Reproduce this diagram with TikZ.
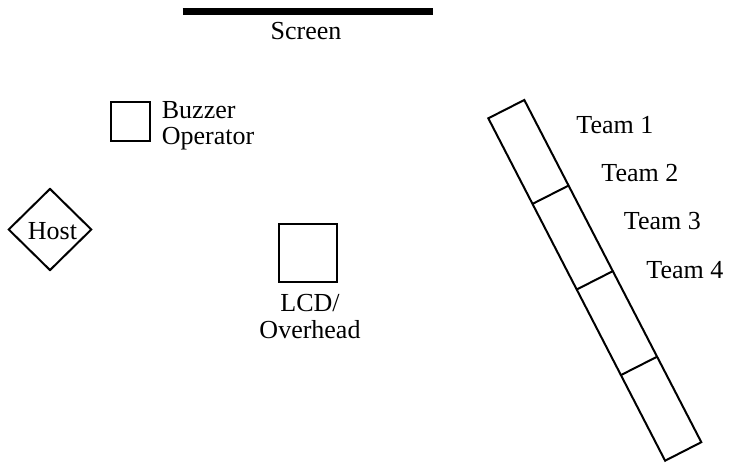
\documentclass[tikz,border=0pt]{standalone}
\usepackage{fontspec}
\setmainfont{Liberation Serif}
\usetikzlibrary{shapes.geometric}
\begin{document}
\begin{tikzpicture}[x=0.5pt,y=-0.5pt,
  every node/.style={font=\fontsize{13}{13.4}\selectfont},
  box/.style={draw,line width=1pt,inner sep=0pt,minimum width=#1*0.5pt,minimum height=#1*0.5pt},
  lbl/.style={inner sep=0pt},
  table/.style={line width=1pt,line join=miter}]
\useasboundingbox (0,0) rectangle (731,464);
% screen
\coordinate (s1) at (182.7,11.7);
\coordinate (s2) at (432.7,11.7);
\draw[line width=3.35pt] (s1) -- (s2);
\node[lbl,anchor=base] (screen) at (306,39.3) {Screen};
% buzzer operator
\node[box=39] (buzz) at (130.5,121.2) {};
\node[lbl,anchor=base west,align=left] (buzzlbl) at (161.5,145) {Buzzer\\Operator};
% host
\node[draw,line width=1pt,shape=diamond,inner sep=0pt,minimum width=41.7pt,minimum height=41pt] (hostd) at (50,229.5) {};
\node[lbl,anchor=base] (host) at (52.5,239.3) {Host};
% LCD
\node[box=58.5] (lcd) at (308,253) {};
\node[lbl,anchor=base,align=center] (lcdlbl) at (310,338.3) {LCD/\\Overhead};
% team tables
\coordinate (a0) at (488.3,118.3);
\coordinate (b0) at (524.3,100);
\coordinate (a1) at (532.5,203.9);
\coordinate (b1) at (568.5,185.6);
\coordinate (a2) at (576.7,289.5);
\coordinate (b2) at (612.7,271.2);
\coordinate (a3) at (620.9,375.1);
\coordinate (b3) at (656.9,356.8);
\coordinate (a4) at (665.1,460.7);
\coordinate (b4) at (701.3,442.2);
\draw[table] (a0) -- (b0) -- (b4) -- (a4) -- cycle;
\draw[table] (a1) -- (b1);
\draw[table] (a2) -- (b2);
\draw[table] (a3) -- (b3);
\node[lbl,anchor=base west] (t1) at (576,134) {Team 1};
\node[lbl,anchor=base west] (t2) at (601,181.7) {Team 2};
\node[lbl,anchor=base west] (t3) at (623.5,229.3) {Team 3};
\node[lbl,anchor=base west] (t4) at (646,278.3) {Team 4};
\end{tikzpicture}
\end{document}
